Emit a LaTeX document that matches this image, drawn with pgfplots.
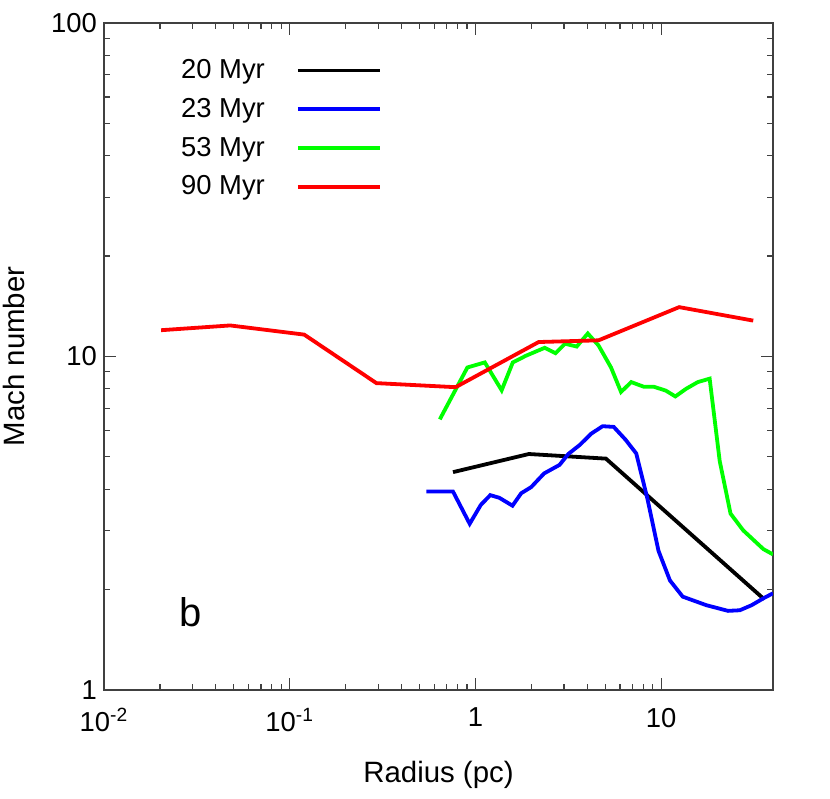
\documentclass[border=0pt]{standalone}
\usepackage{fontspec}
\setmainfont{Liberation Sans}
\usepackage{pgfplots}
\pgfplotsset{compat=1.18}
\begin{document}
\begin{tikzpicture}
\begin{axis}[
  xmode=log, ymode=log,
  scale only axis, width=334.5pt, height=333.5pt,
  xmin=0.01, xmax=40, ymin=1, ymax=100,
  xtick={0.01,0.1,1,10},
  xticklabels={10\textsuperscript{-2},10\textsuperscript{-1},1,10},
  ytick={1,10,100}, yticklabels={1,10,100},
  tick align=inside, major tick length=6pt, minor tick length=3pt,
  axis line style={black!75, line width=0.6pt},
  every tick/.style={black!75, line width=0.6pt},
  font=\fontsize{13.7}{16.4}\selectfont,
  xticklabel style={yshift=-5.5pt},
  xlabel={Radius (pc)}, ylabel={Mach number},
  label style={font=\fontsize{14.7}{17.6}\selectfont},
  xlabel style={at={(axis description cs:0.5,-0.1274)}, anchor=center},
  ylabel style={at={(axis description cs:-0.1345,0.5)}, anchor=center},
  legend plot pos=right,
  legend cell align=left,
  legend style={at={(axis description cs:0.1147,0.946)}, anchor=north west,
    draw=none, fill=none, inner sep=0pt, column sep=15.5pt, row sep=8.3pt,
    nodes={inner sep=0pt}, font=\fontsize{13.7}{16.4}\selectfont},
  legend image code/.code={\draw[#1] (0pt,0pt) -- (41pt,0pt);},
]
\addplot[black, line width=1.9pt] coordinates {
(0.757,4.50) (1.94,5.10) (5.04,4.94) (35.9,1.87)};
\addlegendentry{20 Myr}
\addplot[blue, line width=1.9pt] coordinates {
(0.5436,3.94) (0.7565,3.94) (0.931,3.15) (1.069,3.59) (1.202,3.84) (1.345,3.77)
(1.583,3.57) (1.763,3.89) (1.998,4.06) (2.342,4.46) (2.836,4.73) (3.162,5.10)
(3.661,5.44) (4.201,5.87) (4.84,6.18) (5.554,6.15) (6.43,5.63) (7.34,5.12)
(8.42,3.76) (9.67,2.615) (11.15,2.13) (13.06,1.905) (17.5,1.796) (22.9,1.727)
(26.5,1.734) (30.7,1.796) (35.5,1.883) (40,1.95)};
\addlegendentry{23 Myr}
\addplot[green, line width=1.9pt] coordinates {
(0.643,6.48) (0.905,9.27) (1.123,9.60) (1.384,7.92) (1.589,9.60) (1.877,10.06)
(2.362,10.62) (2.698,10.23) (3.035,10.92) (3.51,10.71) (4.026,11.72) (4.60,10.79)
(5.37,9.27) (6.08,7.83) (6.90,8.38) (8.08,8.11) (9.16,8.11) (10.6,7.90)
(11.92,7.59) (13.62,8.00) (15.75,8.38) (18.24,8.58) (20.66,4.86) (23.63,3.38)
(27.66,3.01) (35.5,2.645) (40,2.55)};
\addlegendentry{53 Myr}
\addplot[red, line width=1.9pt] coordinates {
(0.0203,11.99) (0.0478,12.39) (0.1197,11.63) (0.293,8.32) (0.782,8.09)
(2.19,11.05) (4.60,11.18) (12.5,14.06) (31.3,12.81)};
\addlegendentry{90 Myr}
\node[font=\fontsize{20}{24}\selectfont] at (axis cs:0.0294,1.71) {b};
\end{axis}
\pgfresetboundingbox
\path ([shift={(-52pt,-54.5pt)}]current axis.south west) rectangle ([shift={(28.5pt,11.5pt)}]current axis.north east);
\end{tikzpicture}
\end{document}
